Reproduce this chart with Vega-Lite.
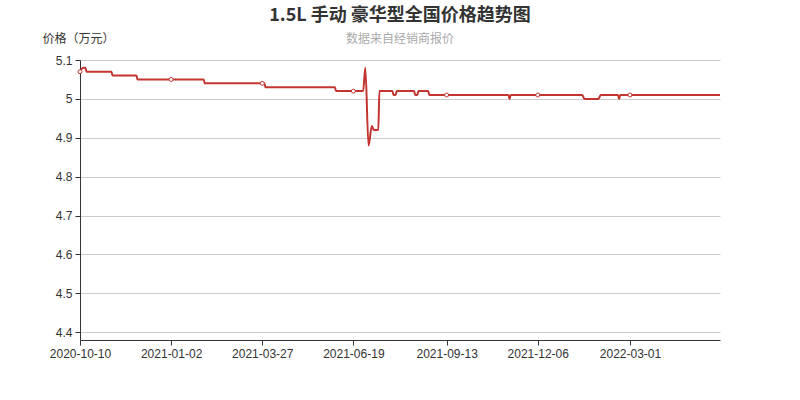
{
  "$schema": "https://vega.github.io/schema/vega-lite/v6.json",
  "width": 640,
  "height": 280,
  "autosize": "none",
  "padding": {"left": 80, "top": 60, "right": 80, "bottom": 60},
  "background": "white",
  "title": {
    "text": "1.5L 手动 豪华型全国价格趋势图",
    "subtitle": "数据来自经销商报价",
    "anchor": "middle",
    "font": "Noto Sans CJK SC",
    "fontSize": 18,
    "fontWeight": "bold",
    "color": "#333333",
    "subtitleFont": "Noto Sans CJK SC",
    "subtitleFontSize": 12,
    "subtitleColor": "#aaaaaa",
    "subtitlePadding": 9,
    "offset": -13
  },
  "config": {
    "view": {"stroke": null},
    "axis": {"labelFont": "Liberation Sans", "labelFontSize": 12, "labelColor": "#333333", "domainColor": "#333333", "tickColor": "#333333", "tickSize": 5}
  },
  "data": {
    "values": [
      {"date": "2020-10-10", "price": 5.07, "dot": true},
      {"date": "2020-10-13", "price": 5.08, "dot": false},
      {"date": "2020-10-15", "price": 5.08, "dot": false},
      {"date": "2020-10-16", "price": 5.07, "dot": false},
      {"date": "2020-11-08", "price": 5.07, "dot": false},
      {"date": "2020-11-09", "price": 5.06, "dot": false},
      {"date": "2020-12-01", "price": 5.06, "dot": false},
      {"date": "2020-12-02", "price": 5.05, "dot": false},
      {"date": "2021-01-02", "price": 5.05, "dot": true},
      {"date": "2021-02-01", "price": 5.05, "dot": false},
      {"date": "2021-02-02", "price": 5.04, "dot": false},
      {"date": "2021-03-27", "price": 5.04, "dot": true},
      {"date": "2021-03-29", "price": 5.04, "dot": false},
      {"date": "2021-03-30", "price": 5.03, "dot": false},
      {"date": "2021-06-02", "price": 5.03, "dot": false},
      {"date": "2021-06-03", "price": 5.02, "dot": false},
      {"date": "2021-06-19", "price": 5.02, "dot": true},
      {"date": "2021-06-28", "price": 5.02, "dot": false},
      {"date": "2021-06-30", "price": 5.08, "dot": false},
      {"date": "2021-07-03", "price": 4.88, "dot": false},
      {"date": "2021-07-06", "price": 4.93, "dot": false},
      {"date": "2021-07-08", "price": 4.92, "dot": false},
      {"date": "2021-07-12", "price": 4.92, "dot": false},
      {"date": "2021-07-13", "price": 5.02, "dot": false},
      {"date": "2021-07-25", "price": 5.02, "dot": false},
      {"date": "2021-07-26", "price": 5.01, "dot": false},
      {"date": "2021-07-28", "price": 5.01, "dot": false},
      {"date": "2021-07-29", "price": 5.02, "dot": false},
      {"date": "2021-08-14", "price": 5.02, "dot": false},
      {"date": "2021-08-15", "price": 5.01, "dot": false},
      {"date": "2021-08-17", "price": 5.01, "dot": false},
      {"date": "2021-08-18", "price": 5.02, "dot": false},
      {"date": "2021-08-27", "price": 5.02, "dot": false},
      {"date": "2021-08-28", "price": 5.01, "dot": false},
      {"date": "2021-09-13", "price": 5.01, "dot": true},
      {"date": "2021-11-09", "price": 5.01, "dot": false},
      {"date": "2021-11-10", "price": 5.00, "dot": false},
      {"date": "2021-11-11", "price": 5.01, "dot": false},
      {"date": "2021-12-06", "price": 5.01, "dot": true},
      {"date": "2022-01-16", "price": 5.01, "dot": false},
      {"date": "2022-01-18", "price": 5.00, "dot": false},
      {"date": "2022-01-31", "price": 5.00, "dot": false},
      {"date": "2022-02-02", "price": 5.01, "dot": false},
      {"date": "2022-02-18", "price": 5.01, "dot": false},
      {"date": "2022-02-19", "price": 5.00, "dot": false},
      {"date": "2022-02-20", "price": 5.01, "dot": false},
      {"date": "2022-03-01", "price": 5.01, "dot": true},
      {"date": "2022-05-23", "price": 5.01, "dot": false}
    ]
  },
  "encoding": {
    "x": {
      "field": "date",
      "type": "temporal",
      "scale": {"type": "utc", "domain": [{"year": 2020, "month": 10, "date": 10, "utc": true}, {"year": 2022, "month": 5, "date": 23, "utc": true}], "nice": false},
      "axis": {
        "title": null,
        "grid": false,
        "labelExpr": "utcFormat(datum.value, '%Y-%m-%d')",
        "labelPadding": 3,
        "labelFlush": false,
        "labelOverlap": false,
        "values": [
          {"year": 2020, "month": 10, "date": 10, "utc": true},
          {"year": 2021, "month": 1, "date": 2, "utc": true},
          {"year": 2021, "month": 3, "date": 27, "utc": true},
          {"year": 2021, "month": 6, "date": 19, "utc": true},
          {"year": 2021, "month": 9, "date": 13, "utc": true},
          {"year": 2021, "month": 12, "date": 6, "utc": true},
          {"year": 2022, "month": 3, "date": 1, "utc": true}
        ]
      }
    },
    "y": {
      "field": "price",
      "type": "quantitative",
      "scale": {"domain": [4.38, 5.1], "nice": false, "zero": false},
      "axis": {
        "title": "价格（万元）",
        "titleAngle": 0,
        "titleFont": "Noto Sans CJK SC",
        "titleFontSize": 12,
        "titleFontWeight": "normal",
        "titleColor": "#333333",
        "titleX": -2,
        "titleY": -22,
        "titleAlign": "center",
        "titleBaseline": "middle",
        "format": "~g",
        "values": [4.4, 4.5, 4.6, 4.7, 4.8, 4.9, 5.0, 5.1],
        "grid": true,
        "gridColor": "#cccccc",
        "labelPadding": 3,
        "labelFlush": false
      }
    }
  },
  "layer": [
    {
      "mark": {"type": "line", "color": "#c23531", "strokeWidth": 2, "interpolate": "monotone"}
    },
    {
      "transform": [{"filter": "datum.dot"}],
      "mark": {"type": "point", "shape": "circle", "filled": true, "fill": "white", "stroke": "#c23531", "strokeWidth": 1, "size": 16, "opacity": 1}
    }
  ]
}
